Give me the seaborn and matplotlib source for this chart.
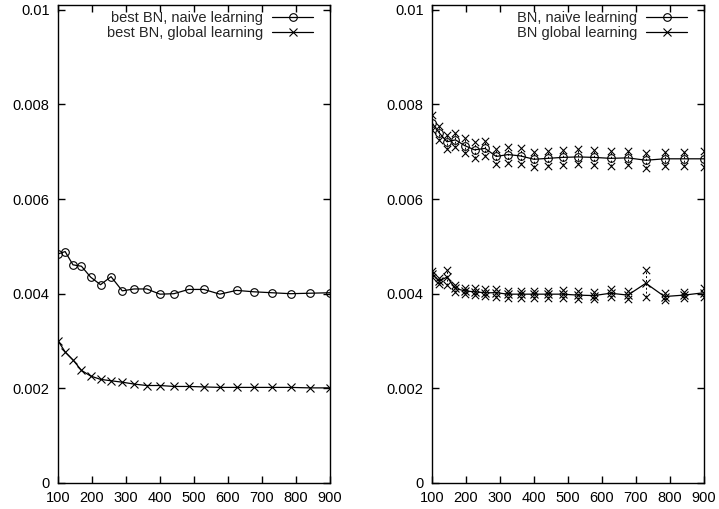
import matplotlib
matplotlib.use("Agg")
import matplotlib.pyplot as plt
import seaborn as sns
import pandas as pd
import numpy as np

# training set sizes
sizes = [100, 121, 144, 169, 196, 225, 256, 289, 324, 361, 400,
         441, 484, 529, 576, 625, 676, 729, 784, 841, 900]

# left panel: best networks
best_naive = [4.84, 4.89, 4.61, 4.58, 4.35, 4.19, 4.36, 4.06, 4.10, 4.10, 3.99,
              4.00, 4.09, 4.09, 3.99, 4.07, 4.04, 4.02, 4.00, 4.01, 4.02]
best_global = [3.005, 2.77, 2.60, 2.38, 2.26, 2.19, 2.16, 2.13, 2.09, 2.06, 2.06,
               2.04, 2.04, 2.03, 2.02, 2.02, 2.02, 2.02, 2.02, 2.01, 2.01]

# right panel: average networks with spread
bn_naive = [7.61, 7.40, 7.21, 7.25, 7.13, 7.04, 7.07, 6.90, 6.94, 6.91, 6.84,
            6.86, 6.88, 6.89, 6.88, 6.86, 6.87, 6.82, 6.85, 6.85, 6.85]
bn_naive_err = [0.16, 0.15, 0.15, 0.15, 0.165, 0.165, 0.16, 0.165, 0.17, 0.175, 0.155,
                0.16, 0.165, 0.16, 0.16, 0.16, 0.155, 0.155, 0.15, 0.15, 0.17]
bn_global = [4.42, 4.27, 4.35, 4.11, 4.06, 4.04, 4.02, 4.02, 3.99, 3.99, 3.99,
             3.99, 3.99, 3.97, 3.96, 4.01, 3.97, 4.22, 3.94, 3.97, 4.02]
bn_global_err = [0.07, 0.07, 0.16, 0.08, 0.07, 0.07, 0.075, 0.08, 0.075, 0.075, 0.075,
                 0.075, 0.08, 0.09, 0.08, 0.08, 0.09, 0.28, 0.07, 0.07, 0.10]

SCALE = 1e-3

sns.set_style("ticks")
plt.rcParams["font.family"] = ["Liberation Sans", "DejaVu Sans"]
plt.rcParams["font.size"] = 10.5

fig = plt.figure(figsize=(7.19, 5.09), dpi=100)
W, H = 719, 509
ax_l = fig.add_axes([58 / W, 1 - 483 / H, 272 / W, 478 / H])
ax_r = fig.add_axes([432 / W, 1 - 483 / H, 272 / W, 478 / H])

line_kw = dict(color="black", linewidth=0.9, markersize=5.5,
               markerfacecolor="none", markeredgecolor="black",
               markeredgewidth=0.8)


def draw_series(ax, y, marker, label, err=None):
    df = pd.DataFrame({"n": sizes, "v": np.asarray(y) * SCALE})
    sns.lineplot(data=df, x="n", y="v", ax=ax, marker=marker, label=label,
                 estimator=None, **line_kw)
    if err is not None:
        e = np.asarray(err) * SCALE
        eb = ax.errorbar(df["n"], df["v"], yerr=e, fmt="none", ecolor="black",
                         elinewidth=0.7, capsize=0)
        eb[2][0].set_linestyle((0, (2, 2)))
        ends = pd.DataFrame({"n": list(sizes) * 2,
                             "v": np.concatenate([df["v"] + e, df["v"] - e])})
        sns.scatterplot(data=ends, x="n", y="v", ax=ax, marker="x",
                        color="black", s=28, linewidth=0.8, legend=False)


draw_series(ax_l, best_naive, "o", "best BN, naive learning")
draw_series(ax_l, best_global, "x", "best BN, global learning")
draw_series(ax_r, bn_naive, "o", "BN, naive learning", bn_naive_err)
draw_series(ax_r, bn_global, "x", "BN global learning", bn_global_err)

for ax in (ax_l, ax_r):
    ax.set_xlim(100, 900)
    ax.set_ylim(0, 0.0101)
    ax.set_xticks(range(100, 901, 100))
    ax.set_yticks([0, 0.002, 0.004, 0.006, 0.008, 0.01])
    ax.set_yticklabels(["0", "0.002", "0.004", "0.006", "0.008", "0.01"])
    ax.set_xlabel("")
    ax.set_ylabel("")
    ax.tick_params(direction="in", top=True, right=True, length=5, width=1,
                   labelsize=10.5, colors="black")
    ax.tick_params(axis="x", pad=6)
    ax.tick_params(axis="y", pad=6)
    for sp in ax.spines.values():
        sp.set_visible(True)
        sp.set_linewidth(1.0)
        sp.set_color("black")
    ax.legend(loc="upper right", frameon=False, markerfirst=False,
              bbox_to_anchor=(1 - 17 / 272, 1 - 6 / 478),
              borderaxespad=0, borderpad=0, labelspacing=0.05,
              handlelength=2.8, handletextpad=0.6, fontsize=10.5)

fig.savefig("out.png", dpi=100, facecolor="white")
